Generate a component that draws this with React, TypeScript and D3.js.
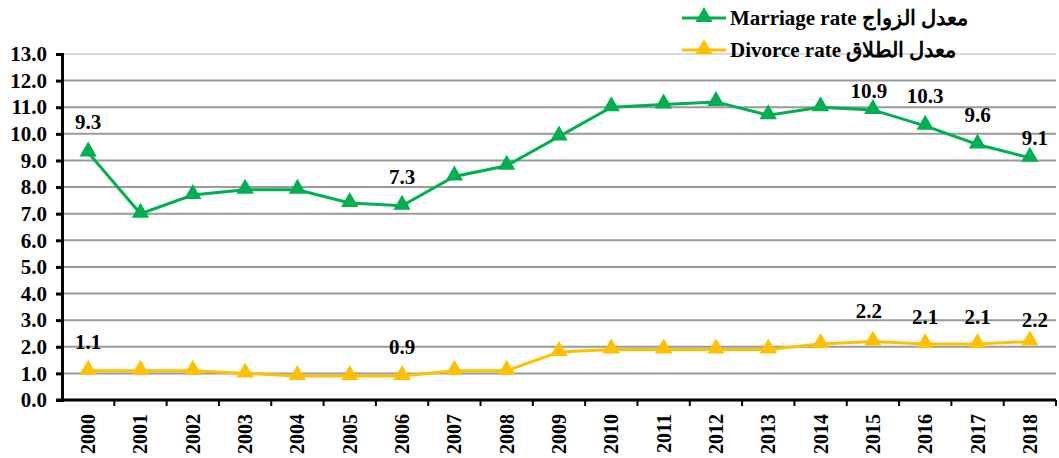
import { useEffect, useRef } from "react";
import * as d3 from "d3";

const years = ["2000", "2001", "2002", "2003", "2004", "2005", "2006", "2007", "2008", "2009", "2010", "2011", "2012", "2013", "2014", "2015", "2016", "2017", "2018"];
const marriage = [9.3, 7.0, 7.7, 7.9, 7.9, 7.4, 7.3, 8.4, 8.8, 9.9, 11.0, 11.1, 11.2, 10.7, 11.0, 10.9, 10.3, 9.6, 9.1];
const divorce = [1.1, 1.1, 1.1, 1.0, 0.9, 0.9, 0.9, 1.1, 1.1, 1.8, 1.9, 1.9, 1.9, 1.9, 2.1, 2.2, 2.1, 2.1, 2.2];
const yTicks = d3.range(0, 14);

// which points get a value label
const marriageLabelIdx = [0, 6, 15, 16, 17, 18];
const divorceLabelIdx = [0, 6, 15, 16, 17, 18];

const GREEN = "#00B050";
const YELLOW = "#FFC000";
const FONT = "Liberation Serif, Times New Roman, serif";

const W = 1059;
const H = 458;
const margin = { top: 54, right: 3, bottom: 58, left: 62 };

// label vertical offsets (px above point)
const labelDy: Record<string, number> = {
  "m0": 23, "m6": 22, "m15": 12, "m16": 23, "m17": 22, "m18": 13,
  "d0": 22, "d6": 22, "d15": 23, "d16": 20, "d17": 20, "d18": 14,
};

export default function App() {
  const ref = useRef<SVGSVGElement>(null);

  useEffect(() => {
    const svg = d3.select(ref.current!);
    svg.selectAll("*").remove();

    const x = d3.scaleBand().domain(years).range([margin.left, W - margin.right]);
    const y = d3.scaleLinear().domain([0, 13]).range([H - margin.bottom, margin.top]);
    const cx = (i: number) => x(years[i])! + x.bandwidth() / 2;

    // gridlines
    svg.append("g")
      .selectAll("line")
      .data(yTicks.filter((t) => t > 0))
      .join("line")
      .attr("x1", margin.left)
      .attr("x2", W - margin.right)
      .attr("y1", (d) => y(d))
      .attr("y2", (d) => y(d))
      .attr("stroke", (d) => (d === 13 ? "#d9d9d9" : "#9a9a9a"))
      .attr("stroke-width", 2);

    // y axis
    const yAxis = svg.append("g")
      .attr("transform", `translate(${margin.left},0)`)
      .call(d3.axisLeft(y).tickValues(yTicks).tickFormat((d) => d3.format(".1f")(d as number)).tickSize(6).tickPadding(9));
    yAxis.select(".domain").attr("stroke", "#000").attr("stroke-width", 3);
    yAxis.selectAll(".tick line").attr("stroke", "#000").attr("stroke-width", 3);
    yAxis.selectAll("text")
      .attr("fill", "#000")
      .attr("font-family", FONT)
      .attr("font-size", 21)
      .attr("font-weight", "bold");

    // x axis
    const xAxis = svg.append("g")
      .attr("transform", `translate(0,${H - margin.bottom})`);
    xAxis.append("line")
      .attr("x1", margin.left - 6)
      .attr("x2", W - margin.right)
      .attr("stroke", "#000")
      .attr("stroke-width", 3);
    xAxis.selectAll("line.tk")
      .data(years)
      .join("line")
      .attr("class", "tk")
      .attr("x1", (d) => x(d)! + x.bandwidth())
      .attr("x2", (d) => x(d)! + x.bandwidth())
      .attr("y1", 0)
      .attr("y2", 6)
      .attr("stroke", "#000")
      .attr("stroke-width", 2);
    xAxis.selectAll("text")
      .data(years)
      .join("text")
      .attr("transform", (d) => `translate(${x(d)! + x.bandwidth() / 2 + 7},14) rotate(-90)`)
      .attr("text-anchor", "end")
      .attr("fill", "#000")
      .attr("font-family", FONT)
      .attr("font-size", 20)
      .attr("font-weight", "bold")
      .text((d) => d);

    const tri = d3.symbol().type(d3.symbolTriangle).size(130);

    const drawSeries = (vals: number[], color: string, labelIdx: number[], key: string) => {
      const line = d3.line<number>().x((_, i) => cx(i)).y((d) => y(d));
      svg.append("path")
        .datum(vals)
        .attr("d", line)
        .attr("fill", "none")
        .attr("stroke", color)
        .attr("stroke-width", 3);
      svg.append("g")
        .selectAll("path")
        .data(vals)
        .join("path")
        .attr("d", tri)
        .attr("transform", (d, i) => `translate(${cx(i)},${y(d) - 1})`)
        .attr("fill", color);
      svg.append("g")
        .selectAll("text")
        .data(labelIdx)
        .join("text")
        .attr("x", (i) => cx(i) + (i === 18 ? 5 : i === 15 ? -4 : 0))
        .attr("y", (i) => y(vals[i]) - labelDy[key + i])
        .attr("text-anchor", "middle")
        .attr("fill", "#000")
        .attr("font-family", FONT)
        .attr("font-size", 21)
        .attr("font-weight", "bold")
        .text((i) => d3.format(".1f")(vals[i]));
    };

    drawSeries(marriage, GREEN, marriageLabelIdx, "m");
    drawSeries(divorce, YELLOW, divorceLabelIdx, "d");

    // legend
    const legend = [
      { name: "Marriage rate معدل الزواج", color: GREEN },
      { name: "Divorce rate معدل الطلاق", color: YELLOW },
    ];
    const lg = svg.append("g").selectAll("g").data(legend).join("g")
      .attr("transform", (_, i) => `translate(682,${18 + i * 32})`);
    lg.append("line").attr("x1", 0).attr("x2", 44).attr("stroke", (d) => d.color).attr("stroke-width", 3);
    lg.append("path").attr("d", tri).attr("transform", "translate(22,-1)").attr("fill", (d) => d.color);
    lg.append("text")
      .attr("x", 48)
      .attr("y", 7)
      .attr("fill", "#000")
      .attr("font-family", FONT)
      .attr("font-size", 21)
      .attr("font-weight", "bold")
      .text((d) => d.name);
  }, []);

  return (
    <div style={{ position: "absolute", left: 0, top: 0 }}>
      <style>{"body{margin:0;background:#fff}"}</style>
      <svg ref={ref} width={W} height={H} style={{ display: "block" }} />
    </div>
  );
}
